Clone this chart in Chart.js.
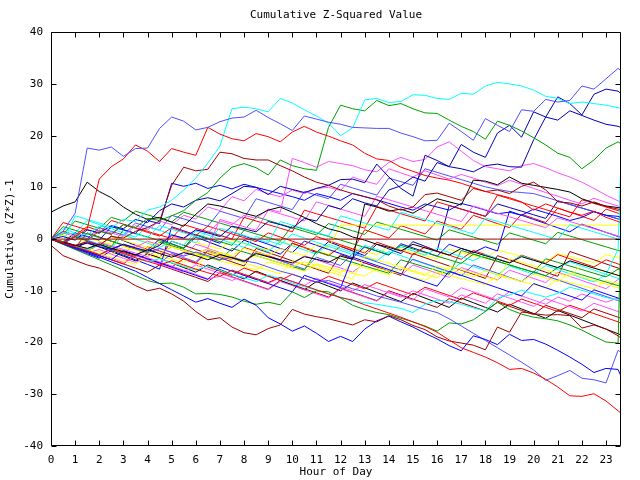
<!DOCTYPE html>
<html>
<head>
<meta charset="utf-8">
<title>Cumulative Z-Squared Value</title>
<script src="https://cdn.jsdelivr.net/npm/chart.js@4.4.1/dist/chart.umd.min.js"></script>
<style>
    body { margin: 0; background: #fff; }
    #wrap { width: 640px; height: 480px; }
</style>
</head>
<body>
<div id="wrap"><canvas id="zChart" width="640" height="480"></canvas></div>
<script>
// x positions (hour of day) shared by every series
const hours = [0, 0.5, 1, 1.5, 2, 2.5, 3, 3.5, 4, 4.5, 5, 5.5, 6, 6.5, 7, 7.5, 8, 8.5, 9, 9.5,
    10, 10.5, 11, 11.5, 12, 12.5, 13, 13.5, 14, 14.5, 15, 15.5, 16, 16.5, 17, 17.5, 18, 18.5, 19, 19.5,
    20, 20.5, 21, 21.5, 22, 22.5, 23, 23.5, 23.6];

const xTickLabels = ['0', '1', '2', '3', '4', '5', '6', '7', '8', '9', '10', '11', '12',
    '13', '14', '15', '16', '17', '18', '19', '20', '21', '22', '23'];
const yTickLabels = [-40, -30, -20, -10, 0, 10, 20, 30, 40];

// upper lines
const lightBlueTop = [0, 1.5, 5, 17.6, 17.2, 17.8, 16, 17.5, 17.6, 21.4, 23.6, 22.8, 21.1, 21.6, 22.7, 23.4, 23.6, 24.9, 23.5, 22.3, 21, 23.8, 23.2, 22.6, 22.2, 21.6, 21.5, 21.4, 21.4, 20.5, 19.8, 19, 19.1, 22.4, 20.8, 19.1, 23.3, 22, 20.8, 25, 24.7, 27, 26.5, 26.8, 29.6, 29, 31, 33, 32.6];
const redUpper = [0, -0.6, 0.5, 2, 11.6, 14, 15.5, 18.2, 17, 15, 17.5, 16.8, 16.2, 21.6, 20.3, 19.4, 19, 20.4, 19.8, 18.8, 20.7, 21.8, 20.7, 19.9, 19, 18.2, 16.6, 15.5, 15.2, 13.9, 13.1, 12.3, 11.8, 11.4, 10.8, 10, 9.2, 8.6, 8, 7.2, 5.6, 6.8, 6, 5.2, 4.6, 5.4, 4.2, 3.4, 3.2];
const cyanUpper = [0, 1.2, 1, 0.8, 2.5, 2.2, 3.8, 3.4, 5.6, 6.2, 7.5, 9.5, 11.8, 14.7, 18, 25.2, 25.5, 25.2, 24.6, 27.2, 26.3, 25, 23.8, 22.4, 20, 21.5, 26.9, 27.2, 26.4, 26.6, 27.9, 27.8, 27.2, 27, 28.2, 28, 29.6, 30.3, 30, 29.6, 28.8, 27.6, 27.2, 26.2, 26.5, 26.2, 25.9, 25.4, 25.2];
const greenUpper = [0, -0.5, 0.4, -0.2, 1.5, 1, 2.8, 2.2, 4, 3.6, 4.5, 5.5, 7.5, 9, 11.8, 13.9, 14.6, 13.8, 12.4, 15.3, 14.2, 13.6, 13.3, 21.6, 25.9, 25.2, 24.8, 26.8, 25.8, 26.2, 25.2, 24.4, 24.3, 23, 21.8, 20.8, 19.3, 22.8, 22, 20.9, 19.6, 18.2, 16.6, 15.8, 13.6, 15.3, 17.6, 18.8, 18.5];
const darkRedUpper = [0, -0.7, -1.2, -0.5, -1.2, 0.5, 0.2, 1.5, 2.2, 3.5, 10.4, 13.9, 13.2, 13.5, 16.8, 16.5, 15.6, 15.3, 15.3, 14.2, 13.2, 12, 11, 10.4, 9.5, 8.8, 8.2, 7.6, 6.4, 5.6, 6.2, 8.6, 8.9, 8.2, 7.5, 9.8, 9.2, 9.5, 8.8, 10.2, 11, 9.5, 7.2, 7, 6.4, 7.2, 6.3, 5.8, 5.6];
const blackEarly = [5.2, 6.4, 7.2, 11, 9.2, 8, 6.2, 4.8, 3.8, 4.2, 3.3, 2.5, 4.8, 6.8, 6.4, 5.8, 5, 4.4, 5.6, 6.2, 5.2, 4.2, 3, 2, 1.4, 0.4, -0.2, -1, -1.6, -2.3, -1, -1.7, -2.4, -3.1, -1.8, -2.5, -3.2, -3.9, -4.6, -3.4, -4.1, -4.8, -5.5, -4.2, -4.9, -5.6, -6.3, -7, -7.1];
const blackLate = [0, -0.5, -1.2, -1.8, -1, -1.8, -2.4, -3.1, -2, -2.8, -3.5, -2.6, -3.2, -4, -3, -3.6, -4.3, -2.8, -3.4, -4, -4.6, -3.4, -3.9, -4.5, -3.3, -3.9, 6.8, 6.2, 5.4, 5.8, 5, 6.4, 7.8, 7.2, 6.6, 11.4, 11.2, 10.5, 12, 10.8, 10.4, 10, 9.6, 9.1, 7.8, 7, 6.4, 6.1, 6];
const navyHigh = [0, 0.5, -0.2, 1.8, 1.2, 2.6, 2, 3.8, 3.2, 5.5, 6.8, 6.2, 7.5, 8, 7.4, 8.8, 10.2, 10, 8.6, 10.2, 9.6, 9, 9.8, 10.4, 11.5, 11.6, 10.9, 14.5, 12, 9.8, 8.3, 16.2, 15.2, 14, 18.3, 16.8, 15.8, 20.5, 22, 19.7, 24.6, 23.6, 27.5, 26.2, 24, 28, 29, 28.6, 28.2];
const navyMid = [0, -0.6, -1.3, -0.8, -1.5, -2, -1, -1.7, -2.3, -1.2, 0.8, 0.2, 1.8, 1.2, 0.5, 2.5, 2, 1.4, 3.4, 2.8, 2.1, 4, 3.5, 6.5, 5.8, 7.8, 7, 6.4, 9.5, 10.3, 12, 11.2, 14.8, 14, 13.6, 13, 14.2, 14.5, 14, 13.9, 19.2, 23.6, 23, 24.8, 23.9, 23, 22.2, 21.8, 21.6];

// lower lines
const redBottom = [0, -0.8, -1.5, -2.2, -3, -2, -2.8, -3.6, -4.3, -5, -4.2, -5, -5.8, -6.5, -7.2, -6, -6.8, -7.6, -8.4, -7.4, -8.2, -9, -9.8, -10.6, -11.3, -11.8, -12.7, -13.5, -14.3, -15.1, -16, -16.9, -18, -19.5, -21, -21.9, -22.8, -23.9, -25.2, -25, -25.9, -27.1, -28.6, -30.3, -30.4, -29.9, -31.3, -33.2, -33.6];
const darkRedBottom = [-1.2, -3.2, -4.1, -5, -5.6, -6.6, -7.6, -9, -10, -9.5, -10.6, -12, -14, -15.6, -15.2, -17, -18.1, -18.5, -17.3, -16.6, -13.6, -14.5, -15, -15.4, -16, -16.6, -15.6, -16, -14.8, -15.6, -16.7, -17.5, -18.9, -19.7, -20.1, -20.5, -21.4, -17, -18, -14.1, -14.4, -14.7, -14.6, -14.8, -17.2, -16.6, -17.4, -18.7, -19.1];
const blueLow = [0, -0.9, -1.8, -2.6, -3.5, -4.4, -5.3, -6.2, -7.4, -8.6, -9.8, -11, -12.2, -11.5, -12.4, -13.2, -11.6, -12.8, -15.2, -16.4, -17.8, -16.8, -18.2, -19.8, -18.8, -19.8, -17.4, -15.8, -14.9, -16, -17, -18.2, -19.3, -20.6, -21.6, -18.7, -19.4, -20.4, -18.4, -19.6, -19.4, -20.3, -21.5, -22.8, -24.2, -25.8, -25, -25.2, -26.3];
const lightBlueLow = [0, -0.8, 0.5, -0.3, -1.1, -1.9, -1, -1.8, -2.6, -1.8, -2.6, -3.3, -2.5, -3.2, -4, -3.5, -4.2, -4.6, -5.4, -6.2, -6.8, -7.6, -8.3, -8, -8.8, -9.6, -10.2, -11, -11.6, -12.2, -12.9, -13.6, -14.2, -15.4, -16.8, -18.2, -19.6, -21, -22.4, -23.8, -25.3, -27.3, -26.4, -25.4, -26.9, -27.2, -27.8, -21.5, -21.8];
const greenLow = [0, -1, -2, -3, -4, -5, -6, -7, -8, -8.6, -8.5, -9.3, -10.6, -10.5, -10.7, -11.2, -12, -12.6, -12.2, -12.7, -10.2, -11.3, -10, -10.2, -11.4, -12.8, -13.6, -14.2, -14.6, -15.3, -16, -16.8, -17.8, -16.2, -16.4, -15.6, -14, -12.2, -13.6, -14.5, -15.1, -15.4, -15.8, -16.6, -17.6, -18.8, -19.9, -20.1, -1];
const cyanLow = [0, -0.5, -1.3, -2.1, -1.2, -2, -2.9, -3.6, -4.4, -3.8, -4.6, -5.3, -6, -5.2, -6, -6.8, -7.5, -8.2, -7, -7.6, -8.5, -9.2, -9.9, -10.6, -11.2, -12, -12.3, -12.6, -13, -13.4, -14.2, -12.6, -11.8, -12.1, -12.6, -13.3, -13.9, -11.4, -10.8, -9.9, -10.6, -11.2, -10.5, -9.3, -9.9, -10.6, -11.3, -11.8, -11.8];

// middle band
const magentaA = [0, -0.7, -1.4, -0.5, -1.2, -2, -1, -1.6, -0.4, -1.1, 0.6, 0, 1.8, 1.2, 3.5, 2.8, 4.6, 4, 5.8, 5.2, 15.6, 14.8, 13.9, 15, 14.6, 14.2, 13.4, 13, 14.8, 15.8, 15, 15.4, 17.8, 18.8, 17, 15.2, 14, 13.6, 13.2, 14.2, 14.6, 13.8, 12.8, 12, 11, 9.8, 8.5, 7.4, 7];
const magentaB = [0, 1.2, 0.5, -0.2, 1.8, 1.2, 0.5, 2.6, 1.8, 3.5, 2.8, 4.6, 3.9, 6.2, 5.5, 8.2, 7.4, 9.6, 8.8, 8.2, 9.5, 8.8, 9.8, 10, 9.4, 12, 11.2, 10.6, 13.6, 12.8, 12, 13.2, 12.4, 11.6, 12.5, 11.8, 11, 10.3, 11.4, 10.6, 9.8, 9, 8.3, 7.5, 6.8, 7.9, 7.1, 6.4, 6.2];
const magentaMid = [0, -0.7, -1.4, -2.1, -0.6, -1.3, -2, -2.7, -3.4, -1.8, -2.5, -3.2, -1, -1.7, 3.8, 3.1, 2.4, 1.7, 5.6, 4.9, 4.2, 3.5, 7.2, 6.5, 5.8, 5.1, 4.4, 8.3, 7.6, 6.9, 6.2, 5.5, 4.8, 4.1, 3.4, 6.4, 5.7, 5, 4.3, 3.6, 2.9, 2.2, 4.1, 3.4, 2.7, 2, 1.3, 0.6, 0.5];
const blueMid = [0, -0.6, 1.2, 0.5, -0.2, 2.4, 1.8, 1.1, 3.6, 3, 10.8, 10.2, 10.8, 9.8, 10.4, 9.7, 10.6, 10, 9.4, 8.8, 8.2, 7.5, 8.8, 8.2, 7.5, 8.8, 8.2, 7.6, 6.9, 6.2, 5.6, 6.8, 6.2, 5.6, 6.9, 6.3, 5.6, 4.9, 5.2, 4.6, 5.8, 5.1, 4.4, 3.6, 4.2, 5.3, 4.6, 4.4, 4.2];
const blueLowMid = [0, -0.8, -1.6, -2.4, -3.2, -4, -2.2, -3, -3.8, -4.6, -5.4, -6.2, -7, -7.8, -5.4, -6.2, -7, -7.8, -8.6, -9.4, -10.2, -7, -7.8, -8.6, -9.4, -3.5, -4.3, -5.1, -5.9, -6.7, -7.5, -8.3, -9.1, -6.2, -7, -7.8, -8.6, -9.4, -10.2, -11, -8.6, -9.4, -10.2, -11, -11.8, -9.8, -10.6, -11.4, -11.6];
const cyanEndJump = [0, -0.8, 0.6, -0.2, -1, -1.8, 0.8, 0, -0.8, -1.6, -0.4, -1.2, 1.6, 0.8, 0, -0.8, -1.6, 0.5, -0.3, -1.1, 1, 0.2, -0.6, -1.4, -2.2, -3, -1.2, -2, -2.8, -1.5, -2.3, -3.1, -1.8, -2.6, -3.4, -4.2, -3, -3.8, -4.6, -3.2, -4, -4.8, -5.6, -4.4, -5.2, -6, -6.8, -2, 13];
const cyanHighMid = [0, -0.6, 4.5, 3.8, 3.1, 2.4, 1.7, 1, 0.3, 2.6, 1.9, 1.2, 0.5, -0.2, 2.1, 1.4, 0.7, 0, -0.7, 3.4, 2.7, 2, 1.3, 0.6, 4.5, 3.8, 3.1, 2.4, 1.7, 5.2, 4.5, 3.8, 3.1, 2.4, 1.7, 1, 4.1, 3.4, 2.7, 2, 1.3, 0.6, -0.1, 2.8, 2.1, 1.4, 0.7, 0, -0.1];
const yellowFlat = [0, -0.6, -1.2, -0.4, -1, -1.7, -2.3, -1.5, -2.1, -2.8, -1.6, -2.2, -2.9, -3.5, -2.6, -3.2, -1.8, -2.5, -3.1, -1.9, -2.6, -3.2, -1, -1.7, 2.7, 2.7, 2.7, 2.7, 2.7, 2.7, 2.7, 2.7, 2.7, 2.7, 2.7, 2.7, 2.7, 2.7, 2.7, 2.7, 2.7, 2.7, 2.7, 2.7, 2.7, 2.7, 2.7, 2.7, 2.7];
const darkRedZero = [0, 0, 0, 0, 0, 0, 0, 0, 0, 0, 0, 0, 0, 0, 0, 0, 0, 0, 0, 0, 0, 0, 0, 0, 0, 0, 0, 0, 0, 0, 0, 0, 0, 0, 0, 0, 0, 0, 0, 0, 0, 0, 0, 0, 0, 0, 0, 0, 0];
const yellowA = [0, 0.8, 0.2, -0.5, -1.1, 0.4, -0.2, -0.9, -1.6, -0.8, -1.5, -2.2, -2.9, -2, -2.7, -3.4, -4.1, -3.2, -3.9, -4.6, -5.3, -4.4, -5.1, -5.8, -6.5, -4.8, -5.5, -6.2, -6.9, -5.6, -6.3, -7, -5.2, -5.9, -6.6, -7.3, -6.1, -6.8, -7.5, -8.2, -6.8, -7.5, -8.2, -6.6, -7.3, -8, -8.7, -9.4, -9.5];
const yellowD = [0, -0.7, -1.4, -2.1, -2.8, -3.5, -4.2, -4.9, -3.1, -3.8, -4.5, -5.2, -5.9, -2.5, -3.2, -3.9, -4.6, -5.3, -6, -6.7, -4.2, -4.9, -5.6, -6.3, -7, -7.7, -3.3, -4, -4.7, -5.4, -6.1, -6.8, -7.5, -5.2, -5.9, -6.6, -7.3, -8, -3.8, -4.5, -5.2, -5.9, -6.6, -7.3, -4.9, -5.6, -6.3, -7, -7.1];
const magentaC = [0, -0.9, -1.8, -2.7, -2, -2.9, -3.7, -4.5, -3.6, -4.4, -5.2, -6, -6.8, -7.7, -7.2, -8, -7, -7.8, -8.6, -7.4, -8.2, -9, -7.6, -8.4, -9.2, -10, -8.8, -9.6, -10.4, -11.2, -10, -10.8, -11.6, -12.4, -10.8, -11.6, -12.4, -10.6, -11.4, -12.2, -13, -11.5, -12.3, -13.1, -13.9, -12.4, -13.2, -14, -14.2];
const magentaD = [0, -0.5, -1.3, -2.1, -2.9, -3.7, -4.5, -3.2, -4, -4.8, -5.6, -6.4, -5, -5.8, -6.6, -7.4, -8.2, -9, -9.8, -8.2, -9, -9.8, -10.6, -11.4, -9.6, -10.4, -11.2, -12, -10.2, -11, -11.8, -9.6, -10.4, -11.2, -9.4, -10.2, -11, -11.8, -10.2, -11, -11.8, -12.6, -11.2, -12, -10.6, -11.4, -12.2, -11.4, -11.6];
const redMid = [0, 1.5, 0.8, 2.4, 1.6, 0.9, 2.8, 2.1, 1.3, 0.6, 2.2, 1.4, 0.7, 2.5, 1.8, 1, 0.3, -0.5, 1.2, 0.4, -0.4, -1.2, 0.5, -0.3, -1.1, -1.9, -2.7, -0.6, -1.4, -2.2, -3, -1.5, -2.3, -3.1, -3.9, -2.2, -3, -3.8, -4.6, -3.1, -3.9, -4.7, -3, -3.8, -4.6, -5.4, -4, -4.8, -5];
const redHighMid = [0, 3.2, 2.5, 1.8, 1.1, 3.6, 2.9, 2.2, 1.5, 0.8, 0.1, 2.8, 2.1, 1.4, 0.7, 0, 4.2, 3.5, 2.8, 2.1, 1.4, 5.6, 4.9, 4.2, 3.5, 2.8, 2.1, 6.3, 5.6, 4.9, 4.2, 3.5, 7.2, 6.5, 5.8, 5.1, 4.4, 8.5, 7.8, 7.1, 6.4, 5.7, 5, 4.3, 7.6, 6.9, 6.2, 5.5, 5.4];
const greenMid = [0, -0.7, -1.4, -2.1, -0.8, -1.5, 1.8, 1.1, 0.4, -0.3, -1, -1.7, 0.9, 0.2, -0.5, -1.2, 1.7, 1, 0.3, -0.4, 2.6, 1.9, 1.2, 0.5, -0.2, -0.9, -1.6, -2.3, -3, -1.2, -1.9, -2.6, -3.3, -4, -4.7, -2.9, -3.6, -4.3, -5, -5.7, -6.4, -7.1, -5.5, -6.2, -6.9, -7.6, -8.3, -9, -9.1];
const greenLowMid = [0, 2.4, 1.7, 1, 0.3, -0.4, -1.1, -1.8, -2.5, -0.6, -1.3, -2, -2.7, -3.4, -4.1, -1.8, -2.5, -3.2, -3.9, -4.6, -5.3, -6, -2.4, -3.1, -3.8, -4.5, -5.2, -5.9, -6.6, -4, -4.7, -5.4, -6.1, -6.8, -2.2, -2.9, -3.6, -4.3, -5, -5.7, -6.4, -3.8, -4.5, -5.2, -5.9, -6.6, -7.3, -5.8, -6];
const lightBlueMid = [0, -0.9, -1.7, -2.5, -3.3, -1.5, -2.3, -3.1, -3.9, -4.7, -2.8, -3.6, -4.4, -2.1, -2.9, -3.7, -4.5, -2.6, -3.4, -4.2, -5, -5.8, -3.5, -4.3, -5.1, -2.8, -3.6, -4.4, -5.2, -6, -3.9, -4.7, -5.5, -6.3, -7.1, -5, -5.8, -6.6, -7.4, -8.2, -6.3, -7.1, -7.9, -8.7, -9.5, -10.3, -11.1, -11.9, -12];
const blueJump = [0, -1, -1.9, -2.8, -3.7, -2.2, -3.1, -4, -4.9, -5.8, 2.4, 1.6, 0.8, 0, -0.8, 1.4, 0.6, -0.2, -1, -1.8, -2.6, -0.4, -1.2, -2, -2.8, -3.6, -1.5, -2.3, -3.1, -0.9, -1.7, -2.5, -3.3, -1, -1.8, -2.6, -1.5, -2.3, 5.4, 4.6, 3.8, 3, 2.2, 1.4, 2.9, 2.1, 1.3, 0.5, 0.4];
const redLowMid = [0, -0.8, -1.6, -2.4, -3.2, -4, -4.8, -3, -3.8, -4.6, -5.4, -3.8, -4.6, -5.4, -6.2, -7, -5.6, -6.4, -7.2, -8, -6.8, -7.6, -8.4, -7.2, -8, -8.8, -9.6, -8.4, -9.2, -10, -10.8, -9.3, -10.1, -10.9, -11.7, -10.4, -11.2, -12, -12.8, -11.6, -12.4, -13.2, -14, -12.8, -13.6, -14.4, -15.2, -16, -16.2];
const cyanMid = [0, 2, 1.2, 3.6, 2.8, 2, 1.2, 0.4, 2.5, 1.7, 0.9, 0.1, -0.7, 1.6, 0.8, 0, -0.8, -1.6, -2.4, -0.5, -1.3, -2.1, -2.9, -1, -1.8, -2.6, -3.4, -4.2, -2.4, -3.2, -4, -4.8, -5.6, -6.4, -4.5, -5.3, -6.1, -6.9, -5.2, -6, -6.8, -5.1, -5.9, -6.7, -7.5, -8.3, -6.8, -7.6, -7.8];
const yellowB = [0, -0.6, -1.2, -1.8, -2.4, -3, -1.5, -2.1, -2.7, -3.3, -3.9, -4.5, -3, -3.6, -4.2, -4.8, -5.4, -6, -4.4, -5, -5.6, -6.2, -4.8, -5.4, -6, -6.6, -7.2, -5.6, -6.2, -6.8, -7.4, -8, -6.4, -7, -7.6, -8.2, -8.8, -7, -7.6, -8.2, -8.8, -9.4, -7.8, -8.4, -9, -9.6, -8, -8.6, -8.8];
const blackLow = [0, -0.9, -1.8, -0.6, -1.5, -2.4, -3.3, -4.2, -2.8, -3.7, -4.6, -5.5, -6.4, -5, -5.9, -6.8, -7.7, -6.2, -7.1, -8, -8.9, -9.8, -8.2, -9.1, -10, -8.5, -9.4, -10.3, -11.2, -12.1, -10.5, -11.4, -12.3, -13.2, -11.4, -12.3, -13.2, -14.1, -12.6, -13.5, -14.4, -15.3, -13.8, -14.7, -15.6, -16.5, -17.4, -18.3, -18.5];
const greenHighMid = [0, 0.9, 3.5, 2.8, 2.1, 4.2, 3.5, 5.4, 4.7, 4, 3.3, 5.2, 4.5, 3.8, 3.1, 2.4, 1.7, 4.3, 3.6, 2.9, 2.2, 1.5, 0.8, 3, 2.3, 1.6, 0.9, 3.3, 2.6, 1.9, 1.2, 0.5, -0.2, 1.8, 1.1, 0.4, -0.3, -1, 1.2, 0.5, -0.2, -0.9, 1.3, 0.6, -0.1, -0.8, -1.5, -2.2, -2.3];
const redRising = [0, -0.8, -1.6, -2.4, -1, -1.8, -2.6, -3.4, -1.5, -2.3, -3.1, -3.9, -4.7, -2.4, -3.2, -4, -1.6, -2.4, -3.2, -4, -0.8, -1.6, -2.4, -3.2, -1.4, -2.2, 1.8, 1, 0.2, 2.6, 1.8, 1, 3.5, 2.7, 1.9, 4.6, 3.8, 3, 2.2, 4.8, 4, 3.2, 6, 5.2, 4.4, 3.6, 5.8, 5, 4.8];
const lightBlueHighMid = [0, -0.7, 0.8, 0.1, 2.2, 1.5, 0.8, 3.1, 2.4, 1.7, 4.6, 3.9, 3.2, 2.5, 5.4, 4.7, 4, 7.8, 7.1, 6.4, 5.7, 9.2, 8.5, 7.8, 10.6, 9.9, 9.2, 8.5, 11.8, 11.1, 10.4, 13.6, 12.9, 12.2, 11.5, 10.8, 10.1, 9.6, 9.2, 9, 8.8, 8.1, 7.4, 6.7, 6, 5.3, 4.6, 3.9, 3.8];
const darkRedLowMid = [0, -0.8, -1.6, -2.4, -3.2, -4, -4.8, -5.6, -6.4, -5, -5.8, -6.6, -7.4, -8.2, -6.5, -7.3, -8.1, -8.9, -9.7, -8, -8.8, -9.6, -10.4, -11.2, -9.5, -10.3, -11.1, -11.9, -10, -10.8, -11.6, -12.4, -13.2, -11.5, -12.3, -13.1, -13.9, -12.2, -13, -13.8, -14.6, -12.8, -13.6, -14.4, -15.2, -13.5, -14.3, -15.1, -15.3];
const darkRedMid = [0, -0.8, -1.6, 1.2, 0.4, -0.4, -1.2, -2, -2.8, -3.6, -0.4, -1.2, -2, -2.8, -3.6, -4.4, -5.2, -1.8, -2.6, -3.4, -4.2, -5, -5.8, -6.6, -3, -3.8, -4.6, -5.4, -6.2, -7, -2.8, -3.6, -4.4, -5.2, -6, -6.8, -7.6, -3.2, -4, -4.8, -5.6, -6.4, -7.2, -2.4, -3.2, -4, -4.8, -5.6, -5.8];
const magentaE = [0, -0.8, -1.6, -0.2, -1, -1.8, -2.6, -1.2, -2, -2.8, -1.5, -2.3, -3.1, -1.8, -2.6, -3.4, -4.2, -2.5, -3.3, -4.1, -4.9, -3.2, -4, -4.8, -5.6, -6.4, -4.6, -5.4, -6.2, -7, -5, -5.8, -6.6, -7.4, -5.5, -6.3, -7.1, -7.9, -6, -6.8, -7.6, -8.4, -6.4, -7.2, -8, -8.8, -9.6, -7.8, -8];
const yellowC = [0, 1.4, 0.8, 0.2, -0.4, -1, 0.6, 0, -0.6, -1.2, 0.5, -0.1, -0.7, -1.3, -1.9, -0.3, -0.9, -1.5, -2.1, -0.5, -1.1, -1.7, -2.3, -2.9, -1.2, -1.8, -2.4, -3, -1.4, -2, -2.6, -3.2, -3.8, -2, -2.6, -3.2, -3.8, -2.1, -2.7, -3.3, -3.9, -4.5, -2.8, -3.4, -4, -4.6, -3, -3.6, -3.7];
const navyLate = [0, -0.9, 0.5, -0.4, -1.3, 0.6, -0.3, -1.2, -2.1, 0, -0.9, -1.8, 0.4, -0.5, -1.4, -2.3, -0.2, -1.1, -2, -2.9, -0.8, -1.7, -2.6, -0.5, -1.4, -2.3, -3.2, -1, -1.9, -2.8, -0.5, -1.4, -2.3, 6.5, 5.8, 5.1, 4.4, 6.8, 6.1, 5.4, 4.7, 4, 7.4, 6.7, 6, 5.3, 4.6, 3.9, 3.8];

const RED = '#ff0000', DARKRED = '#a00000', GREEN = '#00a000', BLUE = '#0000ff',
      NAVY = '#0000b0', LBLUE = '#5050ff', CYAN = '#00ffff', MAGENTA = '#ff50ff',
      YELLOW = '#ffff00', BLACK = '#000000';

const seriesList = [
    [darkRedZero, DARKRED],
    [lightBlueTop, LBLUE], [redUpper, RED], [cyanUpper, CYAN], [greenUpper, GREEN],
    [darkRedUpper, DARKRED], [blackEarly, BLACK], [blackLate, BLACK], [navyHigh, NAVY],
    [navyMid, NAVY], [redBottom, RED], [darkRedBottom, DARKRED], [blueLow, BLUE],
    [lightBlueLow, LBLUE], [greenLow, GREEN], [cyanLow, CYAN], [magentaA, MAGENTA],
    [magentaB, MAGENTA], [magentaMid, MAGENTA], [blueMid, BLUE], [blueLowMid, BLUE],
    [cyanEndJump, CYAN], [cyanHighMid, CYAN], [yellowFlat, YELLOW], [yellowA, YELLOW],
    [yellowD, YELLOW], [magentaC, MAGENTA], [magentaD, MAGENTA], [redMid, RED],
    [redHighMid, RED], [greenMid, GREEN], [greenLowMid, GREEN], [lightBlueMid, LBLUE],
    [blueJump, BLUE], [redLowMid, RED], [cyanMid, CYAN], [yellowB, YELLOW],
    [blackLow, BLACK], [greenHighMid, GREEN], [redRising, RED], [lightBlueHighMid, LBLUE],
    [darkRedLowMid, DARKRED], [darkRedMid, DARKRED], [magentaE, MAGENTA],
    [yellowC, YELLOW], [navyLate, NAVY]
];

// box around the plot with short inward tick marks on all four sides
const frameTicks = {
    id: 'frameTicks',
    afterDraw(chart) {
        const { ctx, chartArea: a, scales: { x, y } } = chart;
        const L = Math.round(a.left) + 0.5, R = Math.round(a.right) - 0.5;
        const T = Math.round(a.top) + 0.5, B = Math.round(a.bottom) - 0.5;
        ctx.save();
        ctx.strokeStyle = '#000';
        ctx.lineWidth = 1;
        ctx.beginPath();
        ctx.rect(L, T, R - L, B - T);
        x.ticks.forEach(t => {
            const px = Math.round(x.getPixelForValue(t.value)) + 0.5;
            ctx.moveTo(px, B); ctx.lineTo(px, B - 5);
            ctx.moveTo(px, T); ctx.lineTo(px, T + 5);
        });
        y.ticks.forEach(t => {
            const py = Math.round(y.getPixelForValue(t.value)) + 0.5;
            ctx.moveTo(L, py); ctx.lineTo(L + 5, py);
            ctx.moveTo(R, py); ctx.lineTo(R - 5, py);
        });
        ctx.stroke();
        ctx.restore();
    }
};

Chart.defaults.font.family = '"DejaVu Sans Mono", monospace';
Chart.defaults.font.size = 11;
Chart.defaults.color = '#000';

new Chart(document.getElementById('zChart'), {
    type: 'line',
    data: {
        datasets: seriesList.map(([values, color]) => ({
            data: values.map((v, i) => ({ x: hours[i], y: v })),
            borderColor: color,
            borderWidth: 1,
            pointRadius: 0,
            tension: 0,
            fill: false
        }))
    },
    options: {
        responsive: false,
        animation: false,
        layout: { padding: { left: 0, right: 19, top: 0, bottom: 0 } },
        plugins: {
            legend: { display: false },
            tooltip: { enabled: false },
            title: {
                display: true,
                text: 'Cumulative Z-Squared Value',
                fullSize: false,
                font: { size: 11, weight: 'normal' },
                padding: { top: 9, bottom: 10 }
            }
        },
        scales: {
            x: {
                type: 'linear',
                min: 0,
                max: 23.62,
                afterFit: s => { s.height = 34; },
                grid: { display: false, drawTicks: false },
                border: { display: false },
                ticks: {
                    stepSize: 1,
                    includeBounds: false,
                    autoSkip: false,
                    maxRotation: 0,
                    padding: 8,
                    callback: v => xTickLabels[v]
                },
                title: { display: true, text: 'Hour of Day', padding: { top: 0, bottom: 1 } }
            },
            y: {
                min: -40,
                max: 40,
                afterFit: s => { s.width = 51; },
                grid: { display: false, drawTicks: false },
                border: { display: false },
                ticks: {
                    stepSize: 10,
                    padding: 8,
                    callback: v => yTickLabels.includes(v) ? String(v) : ''
                },
                title: { display: true, text: 'Cumulative (Z*Z)-1', padding: { top: 4, bottom: 0 } }
            }
        }
    },
    plugins: [frameTicks]
});
</script>
</body>
</html>
